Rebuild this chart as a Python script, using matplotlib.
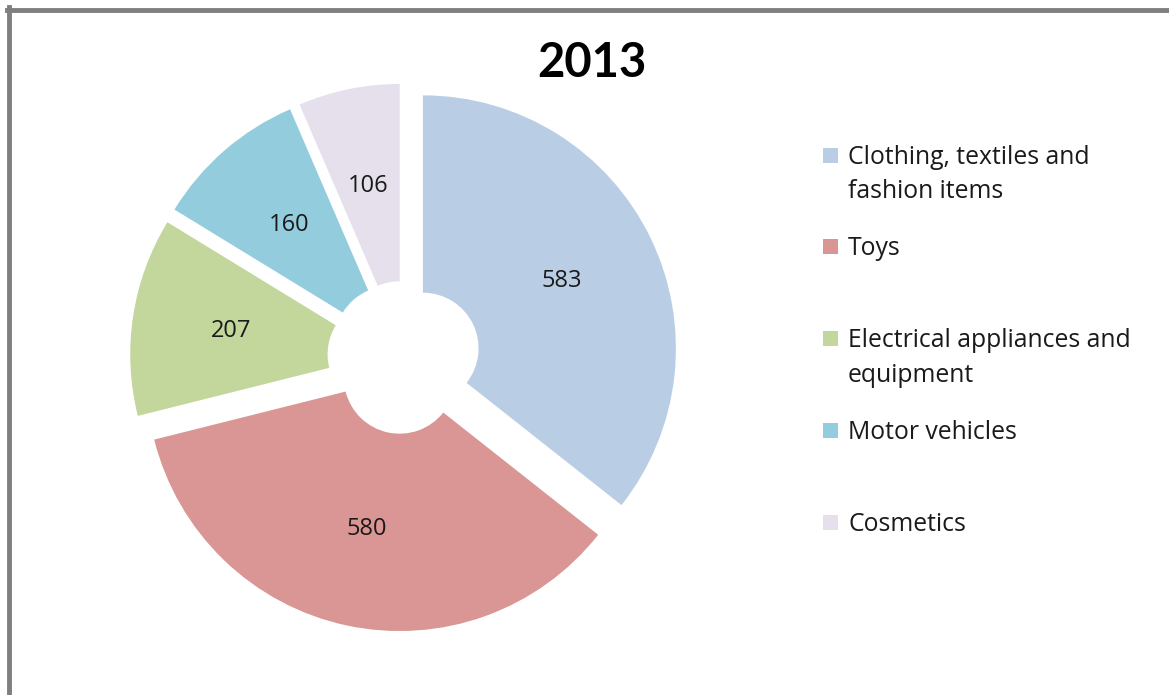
import matplotlib
matplotlib.use('Agg')
import matplotlib.pyplot as plt
from matplotlib.patches import Rectangle
from matplotlib.lines import Line2D

plt.rcParams['font.family'] = ['Open Sans', 'DejaVu Sans']

title = '2013'
categories = ['Clothing, textiles and\nfashion items', 'Toys',
              'Electrical appliances and\nequipment', 'Motor vehicles', 'Cosmetics']
values = [583, 580, 207, 160, 106]
colors = ['#B9CDE5', '#D99694', '#C3D69B', '#93CDDD', '#E6E0EC']

W, H = 1169, 695
fig = plt.figure(figsize=(W / 100, H / 100), dpi=100)


def fx(px):
    return px / W


def fy(py):
    return 1 - py / H


# donut axes: centre (404, 357) px, radius 253 px
unit = 253
cx, cy = 404, 357.5
span = 1.2 * unit
ax = fig.add_axes([fx(cx - span), fy(cy + span), 2 * span / W, 2 * span / H])

total = sum(values)
wedges, texts, autotexts = ax.pie(
    values, colors=colors, startangle=90, counterclock=False,
    explode=[0.083] * len(values), radius=1,
    wedgeprops=dict(width=0.78, linewidth=0),
    autopct=lambda p: f'{round(p * total / 100)}', pctdistance=0.61,
    textprops=dict(fontsize=17, color='#1a1a1a'))
ax.set_xlim(-1.2, 1.2)
ax.set_ylim(-1.2, 1.2)
ax.set_aspect('equal')
ax.axis('off')

fig.text(fx(592), fy(63), title, ha='center', va='center',
         fontsize=34, fontweight='bold', color='black', family=['Lato', 'DejaVu Sans'])

# legend, drawn by hand to keep Excel's fixed spacing
y0, step, line_h = 155, 91.8, 35
for i, (lab, col) in enumerate(zip(categories, colors)):
    yc = y0 + i * step
    fig.patches.append(Rectangle((fx(823), fy(yc + 7.5)), 15 / W, 15 / H,
                                 transform=fig.transFigure, facecolor=col,
                                 edgecolor='none'))
    for j, line in enumerate(lab.split('\n')):
        fig.text(fx(848), fy(yc + j * line_h + 8.5), line, ha='left', va='baseline',
                 fontsize=17.8, color='#1a1a1a')

# chart-area border (only left and top visible)
border = '#7F7F7F'
fig.lines.append(Line2D([fx(8.5), fx(8.5)], [fy(7), 0], transform=fig.transFigure,
                        color=border, linewidth=3.5))
fig.lines.append(Line2D([fx(7), 1], [fy(9.5), fy(9.5)], transform=fig.transFigure,
                        color=border, linewidth=3.5))

fig.savefig('out.png', dpi=100)
